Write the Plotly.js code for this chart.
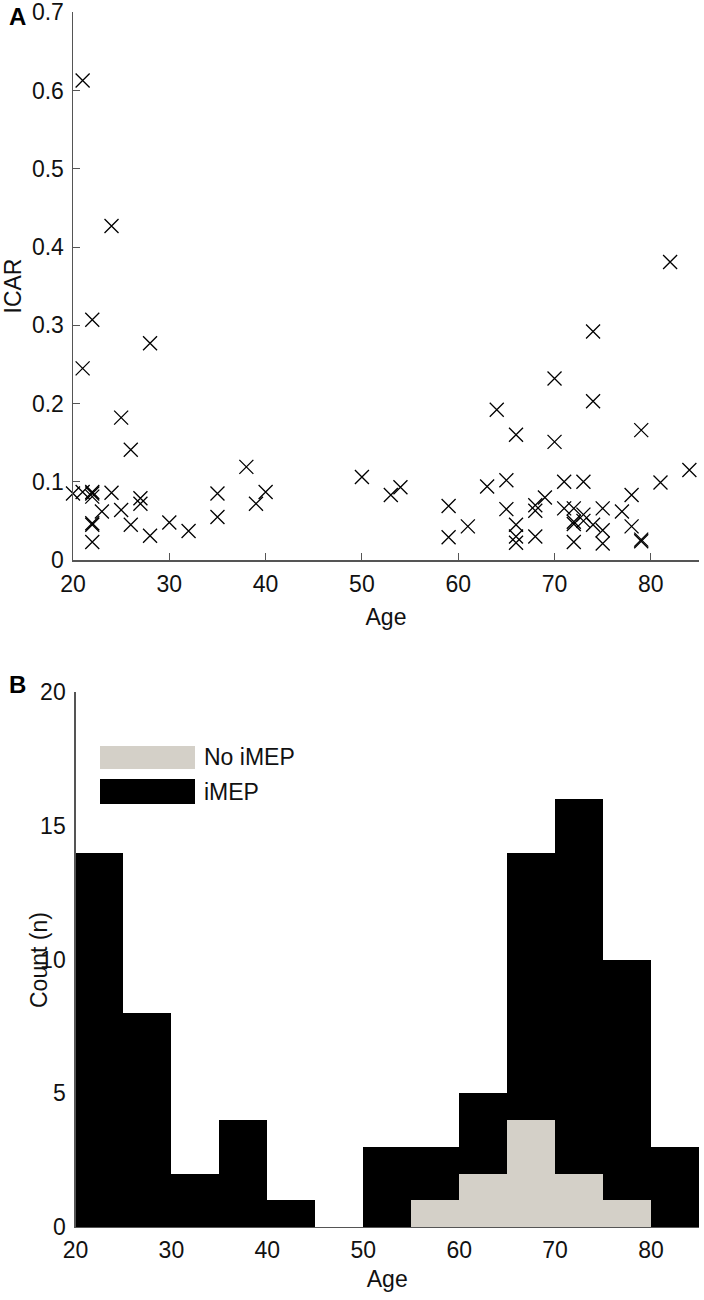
<!DOCTYPE html>
<html>
<head>
<meta charset="utf-8">
<script src="https://cdn.plot.ly/plotly-3.0.1.min.js"></script>
<style>
  html, body { margin: 0; padding: 0; background: #ffffff; }
  #chart { width: 704px; height: 1300px; }
</style>
</head>
<body>
<div id="chart"></div>
<script>
// ---- Panel A: ICAR vs age (iMEP subjects) ----
const ages = [
  21, 24, 22, 21, 20, 21, 22, 22, 22, 24, 23, 22, 22, 22,
  25, 26, 28, 25, 26, 27, 27, 28,
  30, 32,
  35, 35, 38, 39,
  40,
  50, 53, 54,
  59, 59,
  61, 63, 64,
  65, 65, 66, 66, 66, 66, 68, 68, 68, 69,
  70, 70, 71, 71, 72, 72, 72, 72, 73, 73, 73, 74, 74, 74,
  75, 75, 75, 77, 78, 78, 79, 79, 79,
  81, 82, 84
];
const icar = [
  0.613, 0.427, 0.307, 0.245, 0.085, 0.087, 0.087, 0.085, 0.081, 0.086, 0.062, 0.047, 0.045, 0.023,
  0.182, 0.141, 0.277, 0.064, 0.045, 0.079, 0.072, 0.031,
  0.048, 0.037,
  0.085, 0.055, 0.119, 0.072,
  0.087,
  0.106, 0.083, 0.093,
  0.069, 0.029,
  0.043, 0.094, 0.192,
  0.102, 0.065, 0.160, 0.045, 0.030, 0.022, 0.070, 0.063, 0.030, 0.080,
  0.232, 0.151, 0.100, 0.066, 0.066, 0.049, 0.046, 0.023, 0.100, 0.058, 0.050, 0.045, 0.292, 0.203,
  0.066, 0.038, 0.021, 0.062, 0.083, 0.043, 0.166, 0.026, 0.024,
  0.099, 0.381, 0.115
];
const icarTicks = [0, 0.1, 0.2, 0.3, 0.4, 0.5, 0.6, 0.7];
const ageTicks = [20, 30, 40, 50, 60, 70, 80];

// ---- Panel B: age histogram (5-year bins) ----
const binStart = [20, 25, 30, 35, 40, 45, 50, 55, 60, 65, 70, 75, 80];
const countNoIMEP = [0, 0, 0, 0, 0, 0, 0, 1, 2, 4, 2, 1, 0];
const countIMEP   = [14, 8, 2, 4, 1, 0, 3, 2, 3, 10, 14, 9, 3];
const countTicks = [0, 5, 10, 15, 20];
const seriesNames = ['No iMEP', 'iMEP'];
const seriesColors = ['#d4d0c8', '#000000'];

const FONT = 'Liberation Sans, Arial, Helvetica, sans-serif';
const FS = 23;
const W = 704, H = 1300;
const px = v => v / W;
const py = v => 1 - v / H;

const traces = [
  {
    type: 'scatter', mode: 'markers', x: ages, y: icar,
    xaxis: 'x', yaxis: 'y', showlegend: false, name: 'ICAR',
    marker: { symbol: 'x-thin', size: 14, color: '#000', line: { color: '#000', width: 1.3 } },
    cliponaxis: false
  },
  {
    type: 'bar', x: binStart, y: countNoIMEP, width: 5, offset: 0,
    xaxis: 'x2', yaxis: 'y2', name: seriesNames[0], showlegend: false,
    marker: { color: seriesColors[0], line: { width: 0 } }
  },
  {
    type: 'bar', x: binStart, y: countIMEP, width: 5, offset: 0,
    xaxis: 'x2', yaxis: 'y2', name: seriesNames[1], showlegend: false,
    marker: { color: seriesColors[1], line: { width: 0 } }
  }
];

const axisCommon = {
  showgrid: false, zeroline: false, showline: true,
  linecolor: '#555', automargin: false,
  tickfont: { family: FONT, size: FS, color: '#111' },
  ticklabeloverflow: 'allow',
  fixedrange: true
};

const layout = {
  width: W, height: H,
  margin: { l: 0, r: 0, t: 0, b: 0, pad: 0 },
  paper_bgcolor: '#fff', plot_bgcolor: '#fff',
  font: { family: FONT, color: '#111' },
  barmode: 'stack', bargap: 0,
  showlegend: false,
  xaxis: Object.assign({}, axisCommon, {
    domain: [px(73), px(699)], anchor: 'y', range: [20, 85],
    tickvals: ageTicks, ticks: 'inside', ticklen: 7, tickcolor: '#555', linewidth: 1.5,
    ticklabelstandoff: 3,
    title: { text: 'Age', font: { family: FONT, size: FS, color: '#111' }, standoff: 13 }
  }),
  yaxis: Object.assign({}, axisCommon, {
    domain: [py(560), py(12)], anchor: 'x', range: [0, 0.7005],
    tickvals: icarTicks, ticks: 'inside', ticklen: 7, tickcolor: '#555', linewidth: 1.5,
    ticklabelstandoff: 3,
    title: { text: 'ICAR', font: { family: FONT, size: FS, color: '#111' }, standoff: 4 }
  }),
  xaxis2: Object.assign({}, axisCommon, {
    domain: [px(75.5), px(699)], anchor: 'y2', range: [20, 85],
    tickvals: ageTicks, ticks: '', linewidth: 1.2,
    ticklabelstandoff: 2,
    title: { text: 'Age', font: { family: FONT, size: FS, color: '#111' }, standoff: 9 }
  }),
  yaxis2: Object.assign({}, axisCommon, {
    domain: [py(1227), py(692)], anchor: 'x2', range: [0, 20.005],
    tickvals: countTicks, ticks: '', linewidth: 1.2,
    ticklabelstandoff: 4
  }),
  shapes: [
    { type: 'rect', xref: 'paper', yref: 'paper', x0: px(100), x1: px(195), y0: py(769), y1: py(746),
      fillcolor: seriesColors[0], line: { width: 0 } },
    { type: 'rect', xref: 'paper', yref: 'paper', x0: px(100), x1: px(195), y0: py(804), y1: py(779),
      fillcolor: seriesColors[1], line: { width: 0 } }
  ],
  annotations: [
    { text: '<b>A</b>', xref: 'paper', yref: 'paper', x: px(7), y: py(16), xanchor: 'left', yanchor: 'middle',
      showarrow: false, font: { family: FONT, size: 24, color: '#000' } },
    { text: '<b>B</b>', xref: 'paper', yref: 'paper', x: px(7), y: py(684), xanchor: 'left', yanchor: 'middle',
      showarrow: false, font: { family: FONT, size: 24, color: '#000' } },
    { text: 'Count (n)', xref: 'paper', yref: 'paper', x: px(39), y: py(960), xanchor: 'center', yanchor: 'middle',
      textangle: -90, showarrow: false, font: { family: FONT, size: FS, color: '#111' } },
    { text: seriesNames[0], xref: 'paper', yref: 'paper', x: px(202), y: py(757), xanchor: 'left', yanchor: 'middle',
      showarrow: false, font: { family: FONT, size: FS, color: '#111' } },
    { text: seriesNames[1], xref: 'paper', yref: 'paper', x: px(202), y: py(792), xanchor: 'left', yanchor: 'middle',
      showarrow: false, font: { family: FONT, size: FS, color: '#111' } }
  ]
};

Plotly.newPlot('chart', traces, layout, { staticPlot: true, displayModeBar: false });
</script>
</body>
</html>
